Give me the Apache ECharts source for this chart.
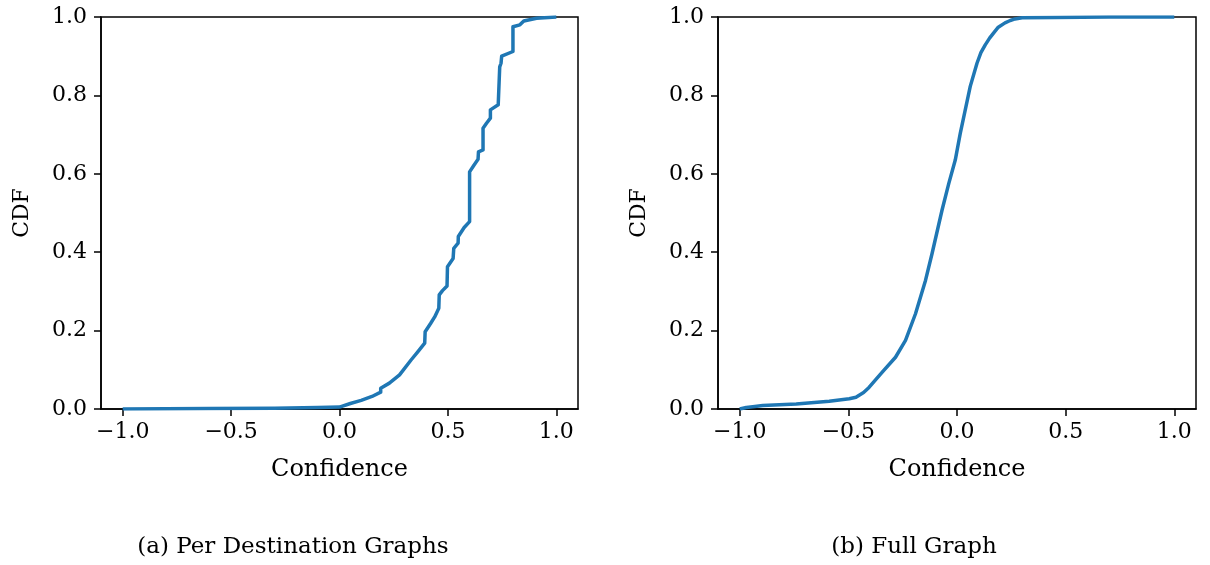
<!DOCTYPE html>
<html>
<head>
<meta charset="utf-8">
<script src="https://cdn.jsdelivr.net/npm/echarts@6/dist/echarts.min.js"></script>
<style>
  html, body { margin: 0; padding: 0; background: #fff; }
  #chart { width: 1210px; height: 565px; }
</style>
</head>
<body>
<div id="chart"></div>
<script>
// Per-destination CDF of confidence (step-like empirical curve)
const perDestX = [-1.0, -0.6, -0.3, -0.1, 0.0, 0.0, 0.05, 0.1, 0.15, 0.19, 0.19, 0.23, 0.277, 0.33, 0.36, 0.393, 0.395,
  0.42, 0.439, 0.458, 0.46, 0.475, 0.496, 0.498, 0.524, 0.527, 0.547, 0.548, 0.575, 0.6, 0.6, 0.62, 0.639,
  0.641, 0.662, 0.662, 0.678, 0.696, 0.696, 0.732, 0.739, 0.745, 0.748, 0.8, 0.8, 0.832, 0.85, 0.909, 1.0];
const perDestY = [0.0, 0.001, 0.002, 0.004, 0.005, 0.01, 0.014, 0.022, 0.032, 0.043, 0.053, 0.066, 0.087, 0.125, 0.145, 0.168, 0.197,
  0.218, 0.235, 0.257, 0.291, 0.302, 0.314, 0.363, 0.384, 0.41, 0.423, 0.44, 0.463, 0.478, 0.605, 0.622, 0.637,
  0.656, 0.661, 0.716, 0.729, 0.742, 0.763, 0.776, 0.873, 0.882, 0.9, 0.912, 0.975, 0.98, 0.99, 0.997, 1.0];

// Full-graph CDF of confidence (smooth curve)
const fullX = [-1.0, -0.97, -0.94, -0.894, -0.74, -0.588, -0.496, -0.465, -0.43, -0.405, -0.344, -0.283, -0.237, -0.191, -0.145,
  -0.115, -0.069, -0.038, -0.008, 0.015, 0.038, 0.061, 0.092, 0.11, 0.13, 0.15, 0.168, 0.19, 0.221, 0.245, 0.267, 0.3, 0.45, 0.7, 1.0];
const fullY = [0.0, 0.004, 0.006, 0.009, 0.013, 0.02, 0.026, 0.03, 0.042, 0.055, 0.094, 0.132, 0.175, 0.243, 0.328,
  0.396, 0.507, 0.575, 0.635, 0.703, 0.763, 0.823, 0.882, 0.909, 0.929, 0.946, 0.959, 0.974, 0.985, 0.991, 0.995, 0.998, 0.999, 1.0, 1.0];

const xTicks = [-1.0, -0.5, 0.0, 0.5, 1.0];
const captions = ['(a) Per Destination Graphs', '(b) Full Graph'];
const xName = 'Confidence';
const yName = 'CDF';

const FONT = 'DejaVu Serif';
const pairs = (xs, ys) => xs.map((x, i) => [x, ys[i]]);
const fmt = v => v.toFixed(1).replace('-', '\u2212');

function xAxis(gridIndex) {
  return {
    type: 'value', gridIndex, min: -1.1, max: 1.1,
    name: xName, nameLocation: 'middle', nameGap: 49,
    nameTextStyle: { fontFamily: FONT, fontSize: 24, color: '#000' },
    splitLine: { show: false },
    axisLine: { show: true, onZero: false, lineStyle: { color: '#000', width: 1.5 } },
    axisTick: { show: true, customValues: xTicks, length: 7, lineStyle: { color: '#000', width: 1.5 } },
    axisLabel: { customValues: xTicks, formatter: fmt, fontFamily: FONT, fontSize: 22, color: '#000', margin: 12 }
  };
}
function yAxis(gridIndex) {
  return {
    type: 'value', gridIndex, min: 0, max: 1, interval: 0.2,
    name: yName, nameLocation: 'middle', nameGap: 68,
    nameTextStyle: { fontFamily: FONT, fontSize: 22, color: '#000' },
    splitLine: { show: false },
    axisLine: { show: true, onZero: false, lineStyle: { color: '#000', width: 1.5 } },
    axisTick: { show: true, length: 7, lineStyle: { color: '#000', width: 1.5 } },
    axisLabel: { formatter: fmt, fontFamily: FONT, fontSize: 22, color: '#000', margin: 14 }
  };
}
function curve(idx, xs, ys) {
  return {
    type: 'line', xAxisIndex: idx, yAxisIndex: idx, data: pairs(xs, ys),
    showSymbol: false, symbol: 'none', smooth: false, clip: true,
    lineStyle: { color: '#1f77b4', width: 3.5, join: 'round' }, itemStyle: { color: '#1f77b4' }
  };
}

const chart = echarts.init(document.getElementById('chart'), null, { renderer: 'canvas' });
chart.setOption({
  animation: false,
  backgroundColor: '#fff',
  grid: [
    { left: 101, top: 17, width: 477, height: 392, show: true, borderColor: '#000', borderWidth: 1.5 },
    { left: 718, top: 17, width: 478, height: 392, show: true, borderColor: '#000', borderWidth: 1.5 }
  ],
  xAxis: [xAxis(0), xAxis(1)],
  yAxis: [yAxis(0), yAxis(1)],
  series: [curve(0, perDestX, perDestY), curve(1, fullX, fullY)],
  graphic: [
    { type: 'text', x: 293, y: 547, style: { text: captions[0], fontFamily: FONT, fontSize: 23, fill: '#000', align: 'center', verticalAlign: 'middle' } },
    { type: 'text', x: 914, y: 547, style: { text: captions[1], fontFamily: FONT, fontSize: 23, fill: '#000', align: 'center', verticalAlign: 'middle' } }
  ]
});
</script>
</body>
</html>
